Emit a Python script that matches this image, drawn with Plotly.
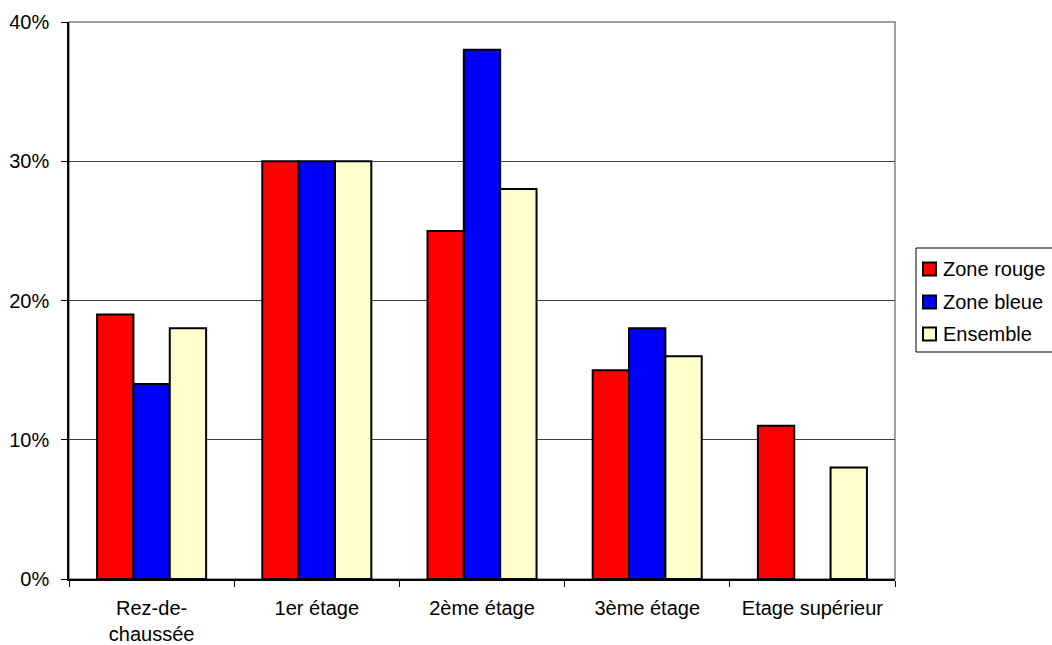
import plotly.graph_objects as go

categories = ["Rez-de-<br>chaussée", "1er étage", "2ème étage", "3ème étage", "Etage supérieur"]
zone_rouge = [19, 30, 25, 15, 11]
zone_bleue = [14, 30, 38, 18, None]
ensemble = [18, 30, 28, 16, 8]
series_names = ["Zone rouge", "Zone bleue", "Ensemble"]
series_colors = ["#ff0000", "#0000ff", "#ffffcc"]
y_ticks = [0, 10, 20, 30, 40]
y_tick_labels = ["0%", "10%", "20%", "30%", "40%"]

W, H = 1052, 645
ML, MR, MT, MB = 69, 157, 22, 66
PW, PH = W - ML - MR, H - MT - MB
font = dict(family="Liberation Sans, Arial, sans-serif", size=20, color="black")


def fx(px):
    """Page x pixel -> paper x."""
    return (px - ML) / PW


def fy(py):
    """Page y pixel -> paper y."""
    return (H - MB - py) / PH


fig = go.Figure()
for name, vals, color in zip(series_names, [zone_rouge, zone_bleue, ensemble], series_colors):
    fig.add_trace(go.Bar(
        x=categories, y=vals, name=name,
        marker=dict(color=color, line=dict(color="black", width=2)),
    ))

# Plot frame (grey top/right border), drawn below the data
shapes = [dict(type="rect", xref="paper", yref="paper", x0=0, y0=0, x1=1, y1=1,
               line=dict(color="#808080", width=1.5), layer="below")]
annotations = []

# Legend box on the right
box_left, box_top, box_bottom = 916, 248, 352
row_centers = [269, 302, 334]
shapes.append(dict(type="rect", xref="paper", yref="paper",
                   x0=fx(box_left), x1=fx(W + 5), y0=fy(box_bottom), y1=fy(box_top),
                   line=dict(color="black", width=1), fillcolor="white"))
for name, color, cy in zip(series_names, series_colors, row_centers):
    shapes.append(dict(type="rect", xref="paper", yref="paper",
                       x0=fx(923), x1=fx(936), y0=fy(cy + 6.5), y1=fy(cy - 6.5),
                       line=dict(color="black", width=2), fillcolor=color))
    annotations.append(dict(xref="paper", yref="paper", x=fx(941), y=fy(cy),
                            xanchor="left", yanchor="middle", showarrow=False,
                            text=name, font=font))

fig.update_layout(
    width=W, height=H,
    margin=dict(l=ML, r=MR, t=MT, b=MB, autoexpand=False),
    paper_bgcolor="white", plot_bgcolor="white",
    barmode="group", bargap=0.34, bargroupgap=0,
    font=font,
    showlegend=False,
    shapes=shapes,
    annotations=annotations,
)

fig.update_xaxes(
    showline=True, linecolor="black", linewidth=1.5,
    ticks="outside", tickson="boundaries", ticklen=6, tickcolor="black",
    showgrid=False, tickfont=font, ticklabelstandoff=10, automargin=False,
)
fig.update_yaxes(
    range=[0, 40], tickvals=y_ticks, ticktext=y_tick_labels,
    showline=True, linecolor="black", linewidth=1.5,
    ticks="outside", ticklen=6, tickcolor="black",
    showgrid=True, gridcolor="#404040", gridwidth=1,
    zeroline=False, tickfont=font, ticklabelstandoff=8, automargin=False,
)

fig.write_html("out.html")
